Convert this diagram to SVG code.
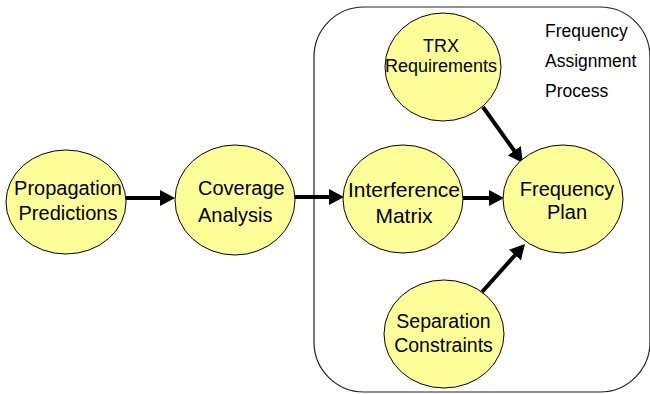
<svg xmlns="http://www.w3.org/2000/svg" width="650" height="394" viewBox="0 0 650 394">
<style>
.node ellipse{fill:#FFFF99;stroke:#000;stroke-width:1}
text{font-family:"Liberation Sans",Arial,sans-serif;fill:#000}
.c{text-anchor:middle}
.conn line{stroke:#000;stroke-width:4}
.frame{fill:none;stroke:#222;stroke-width:1.2}
</style>
<defs>
<marker id="ah" viewBox="0 0 15 16" refX="2" refY="8" markerWidth="15" markerHeight="16" markerUnits="userSpaceOnUse" orient="auto">
<path d="M0,0 L15,8 L0,16 z" fill="#000"/>
</marker>
</defs>
<rect class="frame" x="314" y="7" width="336" height="385" rx="50" ry="50"/>
<g id="label-process" font-size="17.5">
<text x="545" y="37">Frequency</text>
<text x="545" y="67">Assignment</text>
<text x="545" y="97">Process</text>
</g>
<g class="conn" id="connectors">
<line x1="126" y1="198" x2="162" y2="198" marker-end="url(#ah)"/>
<line x1="295" y1="197" x2="331" y2="197" marker-end="url(#ah)"/>
<line x1="463" y1="198" x2="491" y2="198" marker-end="url(#ah)"/>
<line x1="483" y1="107" x2="515.4" y2="152.4" marker-end="url(#ah)"/>
<line x1="482" y1="292" x2="516.3" y2="253.7" marker-end="url(#ah)"/>
</g>
<g class="node" id="propagation">
<ellipse cx="66" cy="202" rx="60" ry="52"/>
<text class="c" x="68" y="195" font-size="20">Propagation</text>
<text class="c" x="68" y="220" font-size="20">Predictions</text>
</g>
<g class="node" id="coverage">
<ellipse cx="235" cy="200" rx="60" ry="55"/>
<text x="198" y="195" font-size="20">Coverage</text>
<text x="198" y="222" font-size="20">Analysis</text>
</g>
<g class="node" id="interference">
<ellipse cx="403" cy="199" rx="60" ry="54"/>
<text class="c" x="404" y="197" font-size="21">Interference</text>
<text class="c" x="404" y="223" font-size="21">Matrix</text>
</g>
<g class="node" id="frequency-plan">
<ellipse cx="563" cy="199" rx="60" ry="54"/>
<text class="c" x="567" y="196" font-size="20">Frequency</text>
<text class="c" x="567" y="219" font-size="20">Plan</text>
</g>
<g class="node" id="trx">
<ellipse cx="443" cy="67" rx="58" ry="54"/>
<text class="c" x="441" y="52" font-size="18">TRX</text>
<text class="c" x="441" y="72" font-size="18">Requirements</text>
</g>
<g class="node" id="separation">
<ellipse cx="444" cy="334" rx="60" ry="54"/>
<text class="c" x="443.5" y="328" font-size="19.5">Separation</text>
<text class="c" x="443.5" y="352" font-size="19.5">Constraints</text>
</g>
</svg>
